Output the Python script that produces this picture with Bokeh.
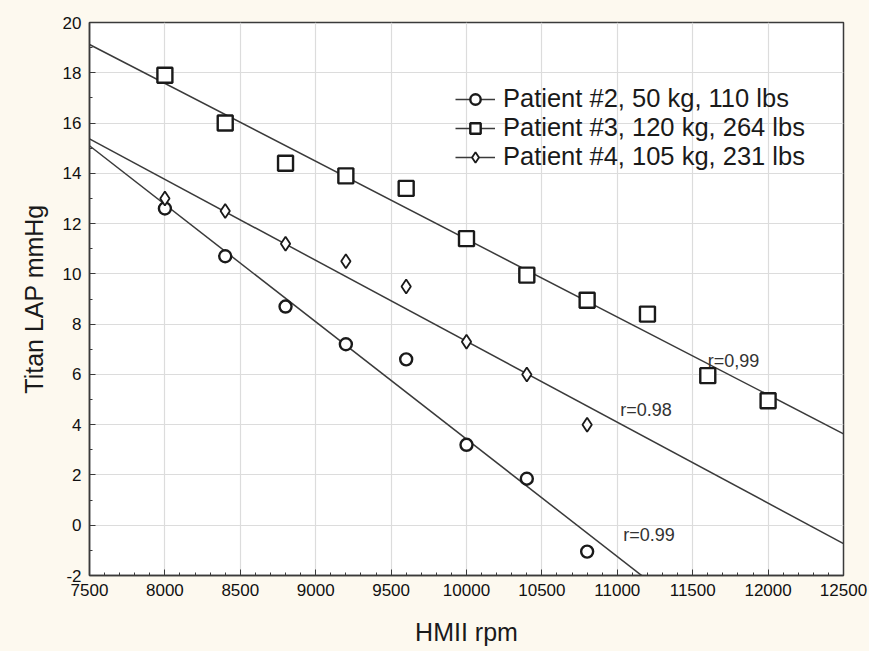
import numpy as np
from bokeh.plotting import figure
from bokeh.models import Range1d, SingleIntervalTicker, Legend, LegendItem, Label, PrintfTickFormatter
from bokeh.embed import file_html
from bokeh.resources import INLINE

# ---- data ----
rpm_p2 = [8000, 8400, 8800, 9200, 9600, 10000, 10400, 10800]
lap_p2 = [12.6, 10.7, 8.7, 7.2, 6.6, 3.2, 1.85, -1.05]

rpm_p3 = [8000, 8400, 8800, 9200, 9600, 10000, 10400, 10800, 11200, 11600, 12000]
lap_p3 = [17.9, 16.0, 14.4, 13.9, 13.4, 11.4, 9.95, 8.95, 8.4, 5.95, 4.95]

rpm_p4 = [8000, 8400, 8800, 9200, 9600, 10000, 10400, 10800]
lap_p4 = [13.0, 12.5, 11.2, 10.5, 9.5, 7.3, 6.0, 4.0]

labels = ["Patient #2, 50 kg, 110 lbs", "Patient #3, 120 kg, 264 lbs", "Patient #4, 105 kg, 231 lbs"]
r_texts = ["r=0.99", "r=0,99", "r=0.98"]

X_MIN, X_MAX = 7500, 12500
Y_MIN, Y_MAX = -2, 20

CREAM = "#fdf9ef"
INK = "#1a1a1a"
LINE = "#3a3a3a"
FONT = "Liberation Sans"

p = figure(width=869, height=651, output_backend="svg", toolbar_location=None,
           x_range=Range1d(X_MIN, X_MAX), y_range=Range1d(Y_MIN, Y_MAX),
           min_border_left=89, min_border_right=26, min_border_top=22, min_border_bottom=76)
p.background_fill_color = "white"
p.border_fill_color = CREAM
p.outline_line_color = LINE
p.outline_line_width = 1.5

p.xaxis.ticker = SingleIntervalTicker(interval=500, num_minor_ticks=5)
p.yaxis.ticker = SingleIntervalTicker(interval=2, num_minor_ticks=2)
p.yaxis.formatter = PrintfTickFormatter(format="%d")
p.xaxis.formatter = PrintfTickFormatter(format="%d")
for ax in (p.xaxis[0], p.yaxis[0]):
    ax.major_tick_in = 6
    ax.major_tick_out = 0
    ax.minor_tick_in = 3
    ax.minor_tick_out = 0
    ax.axis_line_color = LINE
    ax.axis_line_width = 1.5
    ax.major_tick_line_color = LINE
    ax.minor_tick_line_color = LINE
    ax.major_label_text_font = FONT
    ax.major_label_text_font_size = "17px"
    ax.major_label_text_color = "#111111"
    ax.axis_label_text_font = FONT
    ax.axis_label_text_font_size = "25px"
    ax.axis_label_text_font_style = "normal"
    ax.axis_label_text_color = "#1a1a1a"
p.xaxis.axis_label = "HMII rpm"
p.yaxis.axis_label = "Titan LAP mmHg"
p.xaxis.major_label_standoff = 8
p.yaxis.major_label_standoff = 8
p.xaxis.axis_label_standoff = 19
p.yaxis.axis_label_standoff = 12

p.xgrid.grid_line_color = "#dcdcdc"
p.ygrid.grid_line_color = "#dcdcdc"
p.xgrid.grid_line_width = 1.2
p.ygrid.grid_line_width = 1.2

items = []
series = [(rpm_p2, lap_p2, "circle", 12, 2.4),
          (rpm_p3, lap_p3, "square", 15, 2.4),
          (rpm_p4, lap_p4, "diamond", 14, 1.8)]
xs_fit = np.array([X_MIN, X_MAX], dtype=float)
for (xs, ys, marker, size, lw), lab in zip(series, labels):
    slope, icpt = np.polyfit(np.array(xs, float), np.array(ys, float), 1)
    ln = p.line(xs_fit, slope * xs_fit + icpt, line_color=LINE, line_width=1.5)
    sc = p.scatter(xs, ys, marker=marker, size=size, line_color=INK, line_width=lw,
                   fill_color="white")
    items.append(LegendItem(label=lab, renderers=[ln, sc]))

legend = Legend(items=items, location=(366, 404))
legend.background_fill_alpha = 0
legend.border_line_alpha = 0
legend.label_text_font = FONT
legend.label_text_font_size = "25.5px"
legend.label_text_color = INK
legend.label_height = 26
legend.glyph_height = 26
legend.glyph_width = 40
legend.spacing = 0
legend.padding = 0
legend.margin = 0
legend.label_standoff = 8
p.add_layout(legend, "center")

# r labels near the fitted lines
r_pos = [(11040, -0.4), (11600, 6.55), (11020, 4.6)]
for (lx, ly), t in zip(r_pos, r_texts):
    p.add_layout(Label(x=lx, y=ly, text=t, text_font=FONT, text_font_size="18px",
                       text_color="#333333", text_baseline="middle"))

html = file_html(p, INLINE)
html = html.replace("<head>", "<head><style>html,body{background:%s;}</style>" % CREAM, 1)
open("out.html", "w").write(html)
